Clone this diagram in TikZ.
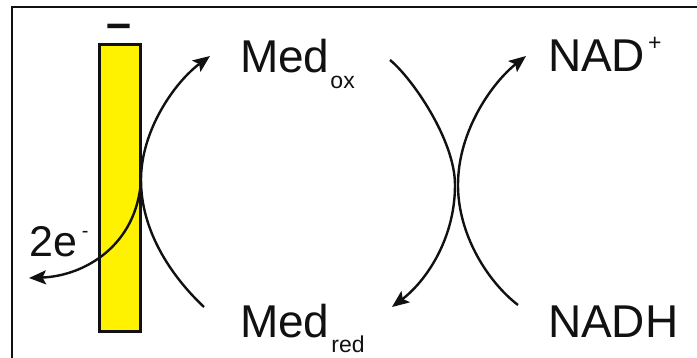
\documentclass[tikz,border=0pt]{standalone}
\usepackage{fontspec}
\setmainfont{Liberation Sans}
\usetikzlibrary{arrows.meta}
\definecolor{ink}{HTML}{111111}
\definecolor{elyellow}{HTML}{FFF200}
\tikzset{
  lbl/.style={anchor=base west, inner sep=0pt, outer sep=0pt, text=ink,
    font=\fontsize{46}{46}\selectfont},
  curve/.style={draw=ink, line width=2.4pt},
  arr/.style={curve, -{Stealth[length=17pt,width=14pt,inset=3.5pt]}},
  electrode/.style={draw=ink, fill=elyellow, line width=2.4pt, minimum width=41pt,
    minimum height=287pt, inner sep=0pt, outer sep=0pt},
}
\begin{document}
\begin{tikzpicture}[x=1pt,y=-1pt]
\useasboundingbox (0,0) rectangle (697,358);
% frame
\draw[ink, line width=2pt] (12,358) -- (12,7) -- (697,7);
% electrode
\node[electrode] (el) at (120,188) {};
\node[inner sep=0pt, text=ink, font=\fontsize{45}{45}\selectfont\bfseries] (minus) at (119,31) {–};
% labels
\node[lbl] (medox) at (240,73) {Med{\fontsize{23}{23}\selectfont\kern1pt\raisebox{-16pt}{ox}}};
\node[lbl] (medred) at (240,338) {Med{\fontsize{23}{23}\selectfont\kern2pt\raisebox{-14pt}{red}}};
\node[lbl] (nadp) at (548,72) {NAD{\fontsize{23}{23}\selectfont\kern3pt\raisebox{21pt}{+}}};
\node[lbl] (nadh) at (548,338) {NADH};
\node[lbl, font=\fontsize{43}{43}\selectfont] (twoe) at (30,257) {2e{\fontsize{20}{20}\selectfont\kern4pt\raisebox{19pt}{-}}};
% coordinates
\coordinate (touch) at (141,180);
\coordinate (elbot) at (204,307);
\coordinate (eltop) at (210,56);
\coordinate (eout) at (29,278);
\coordinate (xa) at (455,185);
\coordinate (xb) at (458,185);
\coordinate (mtop) at (390,60);
\coordinate (mbot) at (392,307);
\coordinate (ntop) at (526,56);
\coordinate (nbot) at (518,305);
% electrode reaction
\draw[curve, -{Stealth[length=17pt,width=14pt,inset=3.5pt]}] (elbot) .. controls (170,275) and (141,230) .. (touch)
  .. controls (141,130) and (175,82) .. (eltop);
\draw[arr] (touch) .. controls (137,245) and (85,276) .. (eout);
% mediator / NAD reaction
\draw[arr] (mtop) .. controls (412,78) and (455,140) .. (xa)
  .. controls (455,240) and (425,282) .. (mbot);
\draw[arr] (nbot) .. controls (488,282) and (458,235) .. (xb)
  .. controls (458,130) and (493,82) .. (ntop);
\end{tikzpicture}
\end{document}
